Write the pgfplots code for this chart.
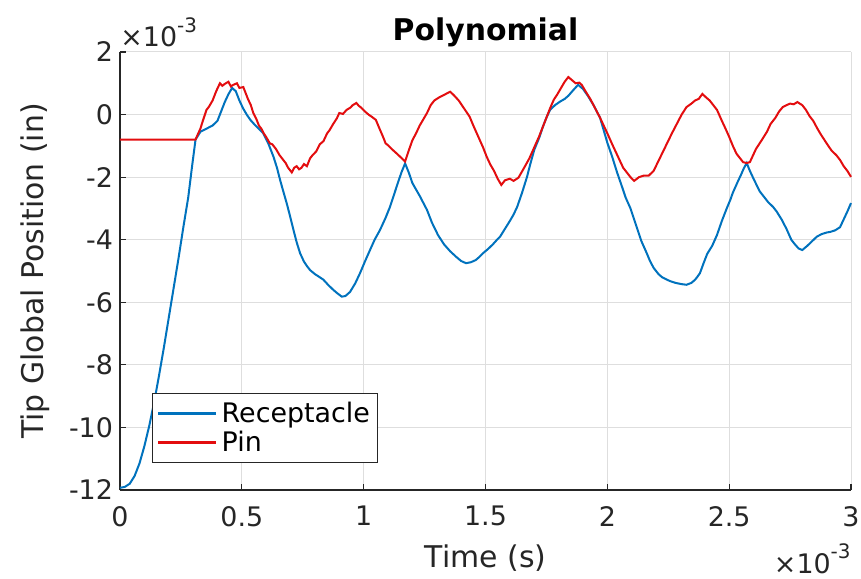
\documentclass[border=0pt]{standalone}
\usepackage{pgfplots}
\pgfplotsset{compat=1.18}
\usepackage{fontspec}
\setmainfont{DejaVu Sans}
\definecolor{mblue}{rgb}{0,0.447,0.741}
\definecolor{mred}{rgb}{0.89,0.05,0.06}
\definecolor{axgray}{rgb}{0.15,0.15,0.15}
\definecolor{gridgray}{rgb}{0.87,0.87,0.87}
\begin{document}
\begin{tikzpicture}
\begin{axis}[
  at={(0,0)}, anchor=south west,
  scale only axis, width=365.5bp, height=219bp,
  xmin=0, xmax=3, ymin=-12, ymax=2,
  axis x line=bottom, axis y line=left,
  axis line style={-, draw=axgray, line width=0.6bp},
  xtick={0,0.5,1,1.5,2,2.5,3},
  xticklabels={0,0.5,1,1.5,2,2.5,3},
  ytick={-12,-10,-8,-6,-4,-2,0,2},
  yticklabels={-12,-10,-8,-6,-4,-2,0,2},
  tick align=inside, major tick length=3bp,
  tick style={draw=axgray, line width=0.6bp},
  grid=major, major grid style={draw=gridgray, line width=0.5bp},
  tick label style={font=\fontsize{13.5}{16}\selectfont, text=axgray},
  xticklabel style={yshift=-4.5bp},
  xlabel={Time (s)}, ylabel={Tip Global Position (in)},
  xlabel style={at={(axis description cs:0.5,-0.1758)}, anchor=base, font=\fontsize{15}{18}\selectfont, text=axgray},
  ylabel style={at={(axis description cs:-0.1053,0.5)}, anchor=base, rotate=0, font=\fontsize{15}{18}\selectfont, text=axgray},
  title={Polynomial},
  title style={at={(axis description cs:0.5,1)}, anchor=base, yshift=0bp, font=\fontsize{15}{18}\selectfont\bfseries},
  legend style={at={(axis description cs:0.0438,0.0616)}, anchor=south west,
    draw=axgray, fill=white, line width=0.5bp, font=\fontsize{13.5}{16}\selectfont,
    inner sep=2bp, row sep=-1bp, text=black},
  legend cell align=left,
  legend image code/.code={\draw[#1, line width=1.6bp] (0bp,0bp) -- (29bp,0bp);},
  clip=false,
]
\addplot[mblue, line width=1bp] coordinates {
(0,-11.93) (0.02,-11.9) (0.04,-11.8) (0.06,-11.55) (0.08,-11.15) (0.10,-10.6) (0.12,-9.95)
(0.14,-9.2) (0.16,-8.35) (0.18,-7.45) (0.20,-6.5) (0.22,-5.55) (0.24,-4.6) (0.26,-3.6)
(0.28,-2.65) (0.295,-1.7) (0.31,-0.8) (0.33,-0.55) (0.36,-0.43) (0.38,-0.35) (0.40,-0.2)
(0.415,0.1) (0.43,0.4) (0.445,0.65) (0.46,0.85) (0.475,0.75) (0.49,0.45) (0.505,0.2)
(0.52,0.0) (0.535,-0.17) (0.55,-0.3) (0.565,-0.42) (0.588,-0.6) (0.61,-0.95)
(0.63,-1.35) (0.645,-1.72) (0.657,-2.09) (0.67,-2.45) (0.684,-2.83) (0.698,-3.25) (0.712,-3.69)
(0.725,-4.08) (0.739,-4.43) (0.755,-4.7) (0.768,-4.85) (0.78,-4.97) (0.80,-5.1) (0.82,-5.2)
(0.835,-5.28) (0.855,-5.45) (0.875,-5.6) (0.89,-5.7) (0.91,-5.82) (0.925,-5.8) (0.944,-5.67)
(0.965,-5.4) (0.985,-5.07) (1.005,-4.7) (1.026,-4.33) (1.045,-4.0) (1.067,-3.69) (1.09,-3.3)
(1.108,-2.95) (1.125,-2.55) (1.14,-2.19) (1.155,-1.85) (1.17,-1.56) (1.185,-1.85)
(1.20,-2.19) (1.23,-2.6) (1.26,-3.05) (1.28,-3.45) (1.305,-3.85) (1.33,-4.15)
(1.355,-4.37) (1.38,-4.55) (1.40,-4.68) (1.42,-4.75) (1.44,-4.72) (1.46,-4.65) (1.475,-4.55)
(1.49,-4.43) (1.51,-4.3) (1.53,-4.15) (1.545,-4.02) (1.56,-3.9) (1.58,-3.65) (1.60,-3.4)
(1.615,-3.2) (1.63,-2.95) (1.65,-2.5) (1.67,-2.0) (1.685,-1.55) (1.70,-1.13) (1.72,-0.75)
(1.735,-0.4) (1.75,-0.1) (1.765,0.15) (1.785,0.3) (1.805,0.41) (1.825,0.5) (1.84,0.6)
(1.86,0.78) (1.88,0.95) (1.90,0.82) (1.92,0.6) (1.945,0.28) (1.97,-0.1) (1.985,-0.5)
(2.00,-0.9) (2.02,-1.35) (2.04,-1.85) (2.06,-2.3) (2.075,-2.65) (2.095,-3.0) (2.11,-3.35)
(2.125,-3.7) (2.14,-4.05) (2.16,-4.4) (2.175,-4.68) (2.19,-4.9) (2.21,-5.1) (2.225,-5.2)
(2.245,-5.28) (2.26,-5.33) (2.28,-5.38) (2.305,-5.42) (2.325,-5.44) (2.345,-5.38) (2.36,-5.28)
(2.37,-5.18) (2.38,-5.07) (2.395,-4.75) (2.41,-4.45) (2.43,-4.2) (2.45,-3.85) (2.47,-3.4)
(2.49,-3.0) (2.505,-2.72) (2.515,-2.5) (2.535,-2.15) (2.55,-1.9) (2.56,-1.72) (2.572,-1.55)
(2.585,-1.8) (2.60,-2.05) (2.625,-2.45) (2.645,-2.65) (2.66,-2.8) (2.68,-2.95) (2.695,-3.1)
(2.715,-3.35) (2.735,-3.65) (2.755,-4.0) (2.77,-4.15) (2.785,-4.28) (2.80,-4.33) (2.82,-4.2)
(2.84,-4.05) (2.86,-3.9) (2.88,-3.82) (2.90,-3.77) (2.915,-3.75) (2.935,-3.7) (2.955,-3.6)
(2.97,-3.35) (2.985,-3.1) (3.00,-2.83)
};
\addlegendentry{Receptacle}
\addplot[mred, line width=1bp] coordinates {
(0,-0.8) (0.31,-0.8) (0.32,-0.62) (0.33,-0.45) (0.34,-0.2) (0.355,0.15) (0.365,0.25)
(0.38,0.45) (0.395,0.75) (0.41,1.0) (0.42,0.92) (0.43,0.98) (0.445,1.05) (0.455,0.9)
(0.465,0.95) (0.48,1.0) (0.49,0.85) (0.506,0.88) (0.515,0.7) (0.525,0.5) (0.537,0.3)
(0.547,0.05) (0.56,-0.15) (0.57,-0.35) (0.58,-0.45) (0.59,-0.6) (0.60,-0.72) (0.615,-0.92)
(0.625,-0.95) (0.64,-1.1) (0.655,-1.3) (0.67,-1.45) (0.68,-1.55) (0.69,-1.7) (0.705,-1.85)
(0.715,-1.7) (0.725,-1.65) (0.735,-1.75) (0.745,-1.7) (0.755,-1.58) (0.767,-1.65) (0.78,-1.4)
(0.79,-1.3) (0.805,-1.18) (0.82,-0.95) (0.835,-0.85) (0.85,-0.6) (0.86,-0.5) (0.875,-0.3)
(0.89,-0.12) (0.90,0.05) (0.915,0.02) (0.93,0.15) (0.945,0.22) (0.955,0.3) (0.97,0.37)
(0.98,0.28) (0.99,0.22) (1.005,0.1) (1.02,0.0) (1.035,-0.08) (1.05,-0.17) (1.065,-0.45)
(1.08,-0.72) (1.09,-0.92) (1.10,-0.98) (1.115,-1.1) (1.135,-1.24) (1.15,-1.35) (1.17,-1.5)
(1.185,-1.15) (1.20,-0.82) (1.215,-0.6) (1.23,-0.35) (1.245,-0.15) (1.26,0.05) (1.275,0.3)
(1.29,0.45) (1.31,0.55) (1.335,0.65) (1.355,0.73) (1.37,0.62) (1.39,0.45) (1.41,0.22) (1.435,-0.07)
(1.45,-0.35) (1.47,-0.7) (1.49,-1.05) (1.505,-1.35) (1.52,-1.6) (1.535,-1.8) (1.55,-2.05)
(1.565,-2.25) (1.58,-2.1) (1.60,-2.05) (1.615,-2.12) (1.635,-2.02) (1.655,-1.75) (1.68,-1.4)
(1.70,-1.05) (1.72,-0.7) (1.735,-0.4) (1.75,-0.1) (1.765,0.2) (1.78,0.47) (1.795,0.65)
(1.81,0.85) (1.825,1.05) (1.84,1.2) (1.855,1.1) (1.87,1.0) (1.885,1.02) (1.895,0.95)
(1.91,0.75) (1.93,0.5) (1.95,0.2) (1.97,-0.1) (1.985,-0.35) (2.00,-0.6) (2.02,-0.95)
(2.035,-1.2) (2.05,-1.45) (2.065,-1.7) (2.08,-1.85) (2.095,-2.0) (2.11,-2.12) (2.13,-2.0) (2.15,-1.95)
(2.17,-1.95) (2.19,-1.8) (2.215,-1.4) (2.245,-0.92) (2.265,-0.6) (2.285,-0.3) (2.305,0.0)
(2.325,0.24) (2.345,0.35) (2.36,0.45) (2.375,0.5) (2.39,0.66) (2.405,0.55) (2.42,0.45)
(2.435,0.3) (2.45,0.15) (2.47,-0.2) (2.485,-0.45) (2.50,-0.71) (2.515,-1.0) (2.53,-1.25)
(2.545,-1.4) (2.557,-1.52) (2.572,-1.55) (2.585,-1.52) (2.61,-1.1) (2.635,-0.8) (2.655,-0.55)
(2.67,-0.3) (2.69,-0.1) (2.705,0.1) (2.72,0.24) (2.735,0.3) (2.75,0.35) (2.765,0.33)
(2.78,0.4) (2.80,0.3) (2.815,0.15) (2.83,-0.05) (2.845,-0.2) (2.86,-0.42) (2.875,-0.62)
(2.89,-0.8) (2.90,-0.92) (2.92,-1.15) (2.94,-1.3) (2.955,-1.45) (2.97,-1.65) (2.985,-1.8)
(3.00,-1.99)
};
\addlegendentry{Pin}
\node[anchor=base west, inner sep=0pt, font=\fontsize{13.5}{16}\selectfont, text=axgray]
  at (rel axis cs:0,1) [yshift=2.5bp] {×10\raisebox{0.55em}{\fontsize{10}{12}\selectfont -3}};
\node[anchor=base east, inner sep=0pt, font=\fontsize{13.5}{16}\selectfont, text=axgray]
  at (rel axis cs:1,0) [yshift=-41.5bp] {×10\raisebox{0.55em}{\fontsize{10}{12}\selectfont -3}};
\end{axis}
\pgfresetboundingbox
\path[use as bounding box] (-60bp,-44.5bp) rectangle (370.5bp,245bp);
\end{tikzpicture}
\end{document}
